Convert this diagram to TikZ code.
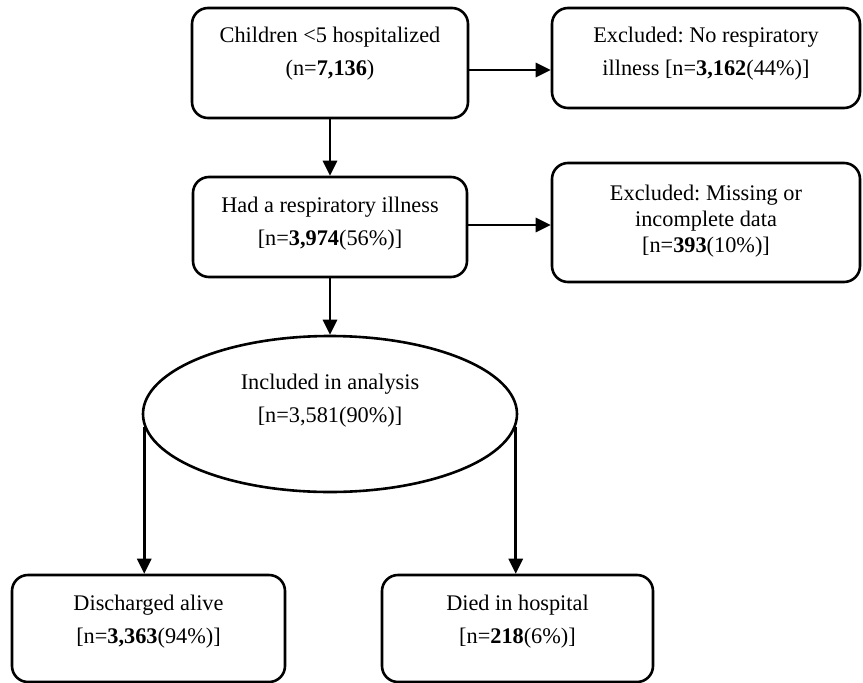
\documentclass[tikz,border=0pt]{standalone}
\usepackage{fontspec}
\setmainfont{Liberation Serif}
\usetikzlibrary{calc, arrows.meta, shapes.geometric}
\frenchspacing

\begin{document}
\begin{tikzpicture}[x=1pt, y=-1pt,
  box/.style={draw, line width=2.6pt, rounded corners=16pt, inner sep=0pt},
  txt/.style={align=center, font=\fontsize{22.3}{33}\selectfont},
  arr/.style={line width=2.8pt, -{Triangle[length=15pt, width=14pt]}}]
  \useasboundingbox (0,0) rectangle (863,683);

  % boxes
  \node[box, minimum width=276pt, minimum height=110pt] (hosp) at (330,63) {};
  \node[box, minimum width=308pt, minimum height=100pt] (noresp) at (706,58) {};
  \node[box, minimum width=274pt, minimum height=100pt] (resp) at (330,227) {};
  \node[box, minimum width=308pt, minimum height=119pt] (missing) at (706,222.5) {};
  \node[draw, ellipse, line width=2.6pt, inner sep=0pt,
        minimum width=374pt, minimum height=156pt] (incl) at (330,414) {};
  \node[box, minimum width=273pt, minimum height=107pt] (alive) at (148.5,628.5) {};
  \node[box, minimum width=271pt, minimum height=107pt] (died) at (517.5,628.5) {};

  % texts
  \node[txt] (hosp-t) at (330,54) {Children <5 hospitalized\\(n=\textbf{7,136})};
  \node[txt] (noresp-t) at (706,54) {Excluded: No respiratory\\illness {}[n=\textbf{3,162}(44\%)]};
  \node[txt] (resp-t) at (330,224) {Had a respiratory illness\\{}[n=\textbf{3,974}(56\%)]};
  \node[txt, font=\fontsize{22.3}{26}\selectfont] (missing-t) at (706,221)
    {Excluded: Missing or\\incomplete data\\{}[n=\textbf{393}(10\%)]};
  \node[txt] (incl-t) at (330,401) {Included in analysis\\{}[n=3,581(90\%)]};
  \node[txt] (alive-t) at (148.5,622) {Discharged alive\\{}[n=\textbf{3,363}(94\%)]};
  \node[txt] (died-t) at (517.5,622) {Died in hospital\\{}[n=\textbf{218}(6\%)]};

  % arrows
  \draw[arr] ([yshift=-7pt]hosp.east) -- ([yshift=-7pt]hosp.east -| noresp.west);
  \draw[arr] (hosp.south) -- (resp.north);
  \draw[arr] ([yshift=2pt]resp.east) -- ([yshift=2pt]resp.east -| missing.west);
  \draw[arr] (resp.south) -- (incl.north);
  \draw[arr] (incl.184) -- (incl.184 |- alive.north);
  \draw[arr] (incl.-4) -- (incl.-4 |- died.north);
\end{tikzpicture}
\end{document}
